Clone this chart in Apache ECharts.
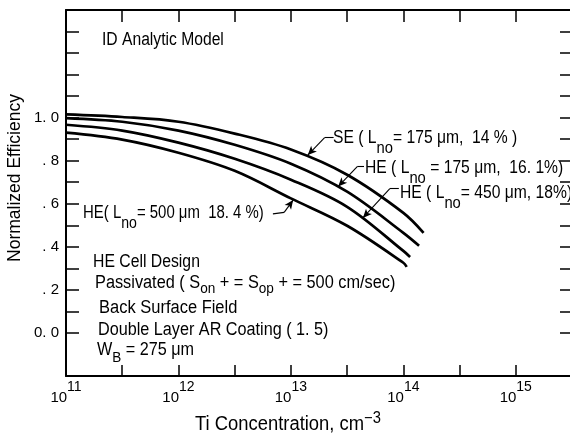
<!DOCTYPE html>
<html><head><meta charset="utf-8">
<script src="https://cdn.jsdelivr.net/npm/echarts@6/dist/echarts.min.js"></script>
<style>html,body{margin:0;padding:0;background:#fff}#c{width:570px;height:446px}</style>
</head><body><div id="c"></div>
<script>
// Ti concentration, log10(cm^-3), and normalized efficiency
const seLog    = [11, 11.5, 12, 12.5, 13, 13.5, 14, 14.18];
const seEff    = [1.015, 1.003, 0.981, 0.926, 0.852, 0.735, 0.558, 0.465];
const he175Log = [11, 11.5, 12, 12.5, 13, 13.5, 14, 14.14];
const he175Eff = [0.998, 0.981, 0.94, 0.874, 0.786, 0.656, 0.465, 0.405];
const he450Log = [11, 11.5, 12, 12.5, 13, 13.5, 14, 14.06];
const he450Eff = [0.967, 0.94, 0.884, 0.809, 0.712, 0.586, 0.381, 0.353];
const he500Log = [11, 11.5, 12, 12.5, 13, 13.5, 14, 14.03];
const he500Eff = [0.93, 0.898, 0.837, 0.753, 0.625, 0.498, 0.326, 0.307];

const xLabelExps = [11, 12, 13, 14, 15];
const yTickVals  = [0, 0.1, 0.2, 0.3, 0.4, 0.5, 0.6, 0.7, 0.8, 0.9, 1.0, 1.1, 1.2, 1.3, 1.4];
const yLabelVals = [0, 0.2, 0.4, 0.6, 0.8, 1.0];
const yLabelText = ['0. 0', '. 2', '. 4', '. 6', '. 8', '1. 0'];

const FONT = '"Liberation Sans", Arial, sans-serif';
const pairs = (xs, ys) => xs.map((x, i) => [x, ys[i]]);

const leaderStyle = {color: '#000', width: 1.1, type: 'solid'};
function leader(start, elbow, tip) {
  return [
    [{coord: start, symbol: 'none'}, {coord: elbow, symbol: 'none'}],
    [{coord: elbow, symbol: 'none'}, {coord: tip, symbol: 'arrow'}]
  ];
}
function mk(data) {
  return {silent: true, symbolSize: [6, 9], lineStyle: leaderStyle, label: {show: false},
          emphasis: {disabled: true}, data: data, animation: false};
}
function lineSeries(name, xs, ys, ml) {
  return {name, type: 'line', data: pairs(xs, ys), smooth: 0.35, showSymbol: false,
          lineStyle: {color: '#000', width: 2.7}, itemStyle: {color: '#000'}, markLine: mk(ml),
          xAxisIndex: 0, yAxisIndex: 0};
}

const richAnn = {
  m: {fontFamily: FONT, fontSize: 18, lineHeight: 20, verticalAlign: 'top', color: '#000'},
  s: {fontFamily: FONT, fontSize: 17, lineHeight: 28, verticalAlign: 'bottom', color: '#000'},
  q: {fontFamily: FONT, fontSize: 15, lineHeight: 21.5, verticalAlign: 'bottom', color: '#000'},
  w: {fontFamily: FONT, fontSize: 15, lineHeight: 24.5, verticalAlign: 'bottom', color: '#000'},
  t: {fontFamily: FONT, fontSize: 20, lineHeight: 23.5, verticalAlign: 'bottom', color: '#000'},
  p: {fontFamily: FONT, fontSize: 16, lineHeight: 16, verticalAlign: 'top', color: '#000'}
};
// (x, y) = left edge and top of the first text line; sx = horizontal squeeze
function txt(x, y, text, sx) {
  return {type: 'text', x: x, y: y, scaleX: sx, scaleY: 1, silent: true,
          style: {text: text, rich: richAnn, verticalAlign: 'top', align: 'left', fill: '#000',
                  font: '18px ' + FONT}};
}

const axisLineStyle = {color: '#000', width: 2};
const tickStyle = {color: '#000', width: 1.5};

const option = {
  animation: false,
  backgroundColor: '#fff',
  grid: {left: 66, top: 10, width: 506, height: 366, containLabel: false, outerBoundsMode: 'none'},
  xAxis: [
    {type: 'value', min: 11, max: 15.5, interval: 0.5, position: 'bottom',
     axisLine: {onZero: false, lineStyle: axisLineStyle},
     axisTick: {inside: true, length: 11, lineStyle: tickStyle},
     splitLine: {show: false},
     axisLabel: {customValues: xLabelExps, margin: 4,
       formatter: v => '{b|10}{s|' + Math.round(v) + '}',
       rich: {b: {fontFamily: FONT, fontSize: 15, lineHeight: 25, verticalAlign: 'bottom', color: '#000'},
              s: {fontFamily: FONT, fontSize: 14, lineHeight: 14, verticalAlign: 'top', color: '#000'}}}},
    {type: 'value', min: 11, max: 15.5, interval: 0.5, position: 'top',
     axisLine: {onZero: false, lineStyle: axisLineStyle},
     axisTick: {inside: true, length: 12, lineStyle: tickStyle},
     splitLine: {show: false}, axisLabel: {show: false}}
  ],
  yAxis: [
    {type: 'value', min: -0.2, max: 1.5, interval: 0.1, position: 'left',
     axisLine: {onZero: false, lineStyle: axisLineStyle},
     axisTick: {inside: true, length: 13, lineStyle: tickStyle, customValues: yTickVals},
     splitLine: {show: false},
     axisLabel: {customValues: yLabelVals, margin: 7, fontFamily: FONT, fontSize: 15, color: '#000',
       formatter: v => {
         const i = yLabelVals.findIndex(t => Math.abs(t - v) < 1e-6);
         return i >= 0 ? yLabelText[i] : '';
       }}},
    {type: 'value', min: -0.2, max: 1.5, interval: 0.1, position: 'right',
     axisLine: {onZero: false, lineStyle: axisLineStyle},
     axisTick: {inside: true, length: 12, lineStyle: tickStyle, customValues: yTickVals},
     splitLine: {show: false}, axisLabel: {show: false}}
  ],
  series: [
    lineSeries('SE', seLog, seEff, leader([13.38, 0.907], [13.30, 0.907], [13.15, 0.826])),
    lineSeries('HE175', he175Log, he175Eff, leader([13.65, 0.772], [13.59, 0.772], [13.42, 0.68])),
    lineSeries('HE450', he450Log, he450Eff, leader([13.96, 0.67], [13.88, 0.67], [13.64, 0.534])),
    lineSeries('HE500', he500Log, he500Eff, leader([12.84, 0.553], [12.94, 0.56], [13.02, 0.617]))
  ],
  graphic: [
    // axis titles
    {type: 'text', x: 15, y: 178, rotation: Math.PI / 2, silent: true,
     style: {text: 'Normalized Efficiency', font: '17.5px ' + FONT, fill: '#000',
             align: 'center', verticalAlign: 'middle'}},
    txt(195, 410.5, '{t|Ti Concentration, cm}{p|−3}', 0.92),
    // annotations
    txt(102, 31, '{m|ID Analytic Model}', 0.87),
    txt(333, 129, '{m|SE ( L}{s|no}{m|= 175 μm,  14 % )}', 0.87),
    txt(365, 159, '{m|HE ( L}{s|no}{m| = 175 μm,  16. 1%)}', 0.87),
    txt(400, 184, '{m|HE ( L}{s|no}{m|= 450 μm, 18%)}', 0.87),
    txt(83, 204, '{m|HE( L}{s|no}{m|= 500 μm  18. 4 %)}', 0.83),
    txt(93, 253, '{m|HE Cell Design}', 0.876),
    txt(95, 274.5, '{m|Passivated ( S}{q|on}{m| + = S}{q|op}{m| + = 500 cm/sec)}', 0.906),
    txt(99, 299.5, '{m|Back Surface Field}', 0.916),
    txt(98, 321, '{m|Double Layer AR Coating ( 1. 5)}', 0.9),
    txt(97, 341, '{m|W}{w|B}{m| = 275 μm}', 0.9)
  ]
};

const chart = echarts.init(document.getElementById('c'), null, {renderer: 'canvas'});
chart.setOption(option);
</script>
</body></html>
